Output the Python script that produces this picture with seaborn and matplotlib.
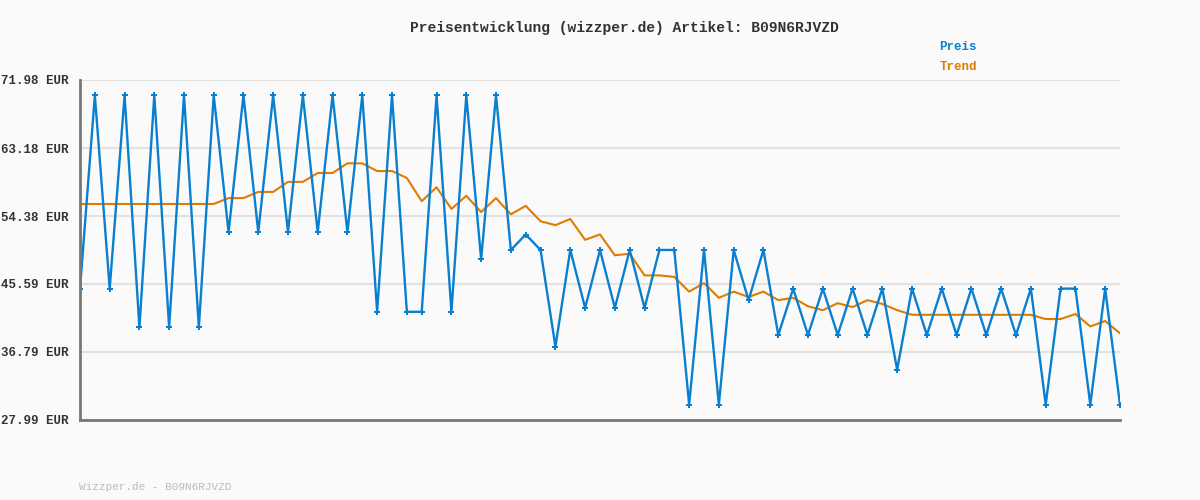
import matplotlib
matplotlib.use('Agg')
import matplotlib.pyplot as plt
import numpy as np
import pandas as pd
import seaborn as sns

# Price history
preis = [44.99, 69.99, 44.99, 69.99, 39.99, 69.99, 39.99, 69.99, 39.99, 69.99,
         52.29, 69.99, 52.29, 69.99, 52.29, 69.99, 52.29, 69.99, 52.29, 69.99,
         41.99, 69.99, 41.99, 41.99, 69.99, 41.99, 69.99, 48.79, 69.99, 49.99,
         51.99, 49.99, 37.49, 49.99, 42.49, 49.99, 42.49, 49.99, 42.49, 49.99,
         49.99, 29.99, 49.99, 29.99, 49.99, 43.49, 49.99, 38.99, 44.99, 38.99,
         44.99, 38.99, 44.99, 38.99, 44.99, 34.49, 44.99, 38.99, 44.99, 38.99,
         44.99, 38.99, 44.99, 38.99, 44.99, 29.99, 44.99, 44.99, 29.99, 44.99,
         29.99]
trend = [55.94] * 10 + [56.7, 56.7, 57.5, 57.5, 58.8, 58.8, 59.95, 59.95, 61.2, 61.2,
         60.2, 60.2, 59.3, 56.3, 58.1, 55.3, 57.0, 54.9, 56.7, 54.6,
         55.7, 53.7, 53.2, 54.0, 51.3, 52.0, 49.3, 49.5, 46.7, 46.7,
         46.5, 44.6, 45.7, 43.8, 44.6, 43.9, 44.6, 43.5, 43.8, 42.7,
         42.2, 43.1, 42.6, 43.5, 43.0, 42.2, 41.6, 41.6, 41.6, 41.6,
         41.6, 41.6, 41.6, 41.6, 41.6, 41.05, 41.05, 41.7, 40.1, 40.8,
         39.2]
yticks = [27.99, 36.79, 45.59, 54.38, 63.18, 71.98]

df = pd.DataFrame({'idx': np.arange(len(preis)), 'Preis': preis, 'Trend': trend})

sns.set_style('white')
plt.rcParams['font.family'] = ['Liberation Mono', 'DejaVu Sans Mono']

fig = plt.figure(figsize=(12, 5), dpi=100, facecolor='#fafafa')
ax = fig.add_axes([80 / 1200, 0.16, 1040 / 1200, 0.68])
ax.set_facecolor('#fafafa')

sns.lineplot(data=df, x='idx', y='Trend', color='#e07b00', lw=1.5, ax=ax)
sns.lineplot(data=df, x='idx', y='Preis', color='#0a7fcf', lw=1.7, marker='P',
             markersize=4, markeredgewidth=0, ax=ax)

ax.set_xlim(0, len(preis) - 1)
ax.set_ylim(yticks[0], yticks[-1])
ax.set_yticks(yticks)
ax.set_yticklabels([f'{v:.2f} EUR' for v in yticks], fontsize=9, fontweight='bold', color='#333333')
ax.set_xticks([])
ax.set_xlabel('')
ax.set_ylabel('')
ax.tick_params(axis='y', length=0, pad=8)
for y in yticks:
    ax.axhline(y, color='#e2e2e2', lw=1.5, zorder=0)
for s in ['top', 'right']:
    ax.spines[s].set_visible(False)
for s in ['left', 'bottom']:
    ax.spines[s].set_color('#777777')
    ax.spines[s].set_linewidth(2)

fig.text(0.52, 0.944, 'Preisentwicklung (wizzper.de) Artikel: B09N6RJVZD', ha='center',
         va='center', fontsize=10.5, fontweight='bold', color='#333333')
fig.text(0.783, 0.906, 'Preis', color='#0a7fcf', fontsize=9, fontweight='bold', va='center')
fig.text(0.783, 0.866, 'Trend', color='#e07b00', fontsize=9, fontweight='bold', va='center')
fig.text(0.066, 0.026, 'Wizzper.de - B09N6RJVZD', color='#bbbbbb', fontsize=8, va='center')

fig.savefig('out.png', dpi=100, facecolor=fig.get_facecolor())
